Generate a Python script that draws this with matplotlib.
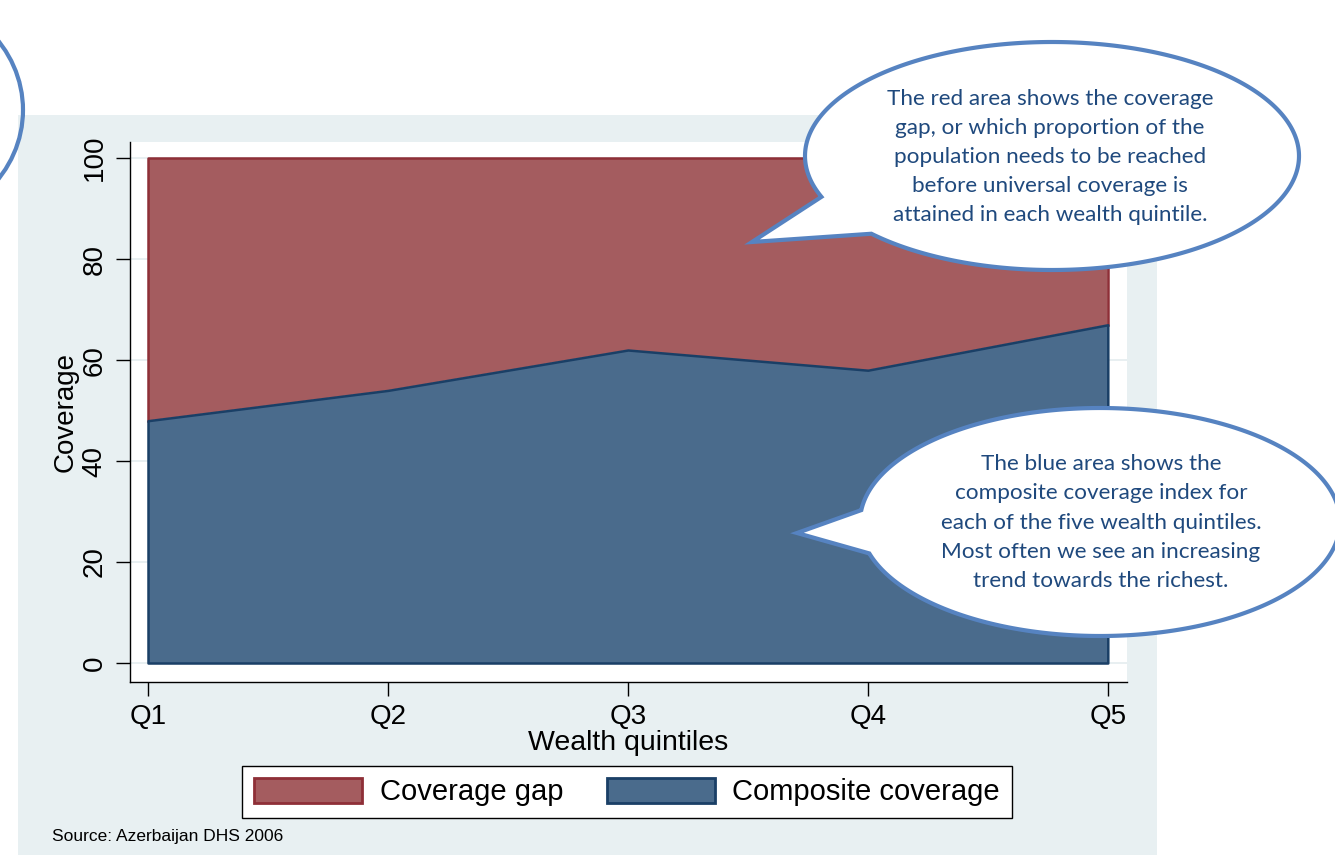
import matplotlib
matplotlib.use('Agg')
import numpy as np
import matplotlib.pyplot as plt
from matplotlib.patches import Rectangle, Polygon, Ellipse, Patch

#--data
quintiles = ['Q1', 'Q2', 'Q3', 'Q4', 'Q5']
composite = [48, 54, 62, 58, 67]
gap       = [52, 46, 38, 42, 33]
yticks    = [0, 20, 40, 60, 80, 100]

note_red  = ['The red area shows the coverage',
             'gap, or which proportion of the',
             'population needs to be reached',
             'before universal coverage is',
             'attained in each wealth quintile.']
note_blue = ['The blue area shows the',
             'composite coverage index for',
             'each of the five wealth quintiles.',
             'Most often we see an increasing',
             'trend towards the richest.']

red_fill, red_edge   = '#a45c5f', '#8e2f37'
blue_fill, blue_edge = '#4a6b8c', '#1a3f66'
bg_col   = '#e8f0f2'
bub_col  = '#5683c1'
note_col = '#1f497d'

plt.rcParams['font.family'] = ['Liberation Sans', 'DejaVu Sans']

W, H = 1335, 855
fig = plt.figure(figsize=(W/100., H/100.), dpi=100)

#--background panel (pixel coords)
bg = fig.add_axes([0, 0, 1, 1], zorder=0)
bg.set_xlim(0, W); bg.set_ylim(H, 0); bg.axis('off')
bg.add_patch(Rectangle((18, 115), 1139, 740, color=bg_col, lw=0))
bg.text(52, 836, 'Source: Azerbaijan DHS 2006', fontsize=12.5, va='center', ha='left')

#--main plot
ax = fig.add_axes([130/W, 1-682/H, (1127-130)/W, (682-142)/H], zorder=1)
x = np.arange(1, len(quintiles)+1)
top = np.array(composite) + np.array(gap)
ax.fill_between(x, composite, top, facecolor=red_fill, edgecolor='none', zorder=2)
ax.plot(np.r_[x[0], x, x[-1]], np.r_[composite[0], top, composite[-1]], color=red_edge, lw=1.8, zorder=3)
ax.fill_between(x, 0, composite, facecolor=blue_fill, edgecolor=blue_edge, lw=1.8, zorder=4)

ax.set_facecolor('white')
ax.set_xlim(0.925, 5.08)
ax.set_ylim(-3.76, 103.2)
ax.set_xticks(x)
ax.set_xticklabels(quintiles)
ax.set_yticks(yticks)
ax.set_yticklabels([str(t) for t in yticks], rotation=90, va='center')
for t in yticks:
    ax.axhline(t, color='#e4ecef', lw=1.2, zorder=1)
for s in ['top', 'right']:
    ax.spines[s].set_visible(False)
for s in ['left', 'bottom']:
    ax.spines[s].set_linewidth(1.0)
ax.tick_params(axis='both', which='both', direction='out', length=10, width=1, labelsize=20, pad=6)
ax.set_xlabel('Wealth quintiles', fontsize=20.5, labelpad=0)
ax.set_ylabel('Coverage', fontsize=20, labelpad=2)

handles = [Patch(facecolor=red_fill, edgecolor=red_edge, lw=2, label='Coverage gap'),
           Patch(facecolor=blue_fill, edgecolor=blue_edge, lw=2, label='Composite coverage')]
leg = fig.legend(handles=handles, loc='center', bbox_to_anchor=(627/W, 1-792/H), ncol=2, fontsize=21,
                 frameon=True, fancybox=False, edgecolor='black', framealpha=1,
                 handlelength=3.7, handleheight=0.95, handletextpad=0.6,
                 columnspacing=1.5, borderpad=0.4)
leg.get_frame().set_linewidth(1.0)

#--speech bubbles (pixel coords)
ov = fig.add_axes([0, 0, 1, 1], zorder=5)
ov.set_xlim(0, W); ov.set_ylim(H, 0); ov.axis('off')

def bubble(cx, cy, a, b, t_lo, t_hi, tip):
    th = np.radians(np.linspace(t_hi, t_lo+360, 400))
    pts = np.c_[cx + a*np.cos(th), cy + b*np.sin(th)]
    pts = np.vstack([pts, tip])
    ov.add_patch(Polygon(pts, closed=True, facecolor='white', edgecolor=bub_col, lw=3, joinstyle='miter'))

ov.add_patch(Ellipse((-100, 110), 246, 230, facecolor='none', edgecolor=bub_col, lw=3))
bubble(1052, 156, 247, 114, 137, 159, (752, 242))
bubble(1100, 522, 240, 114, 164, 186, (797, 533))

for i, line in enumerate(note_red):
    ov.text(1050, 99 + 29*i, line, ha='center', va='center', fontsize=16.2,
            color=note_col, family=['Lato', 'DejaVu Sans'])
for i, line in enumerate(note_blue):
    ov.text(1101, 464 + 29.3*i, line, ha='center', va='center', fontsize=16.2,
            color=note_col, family=['Lato', 'DejaVu Sans'])

fig.savefig('out.png', dpi=100)
